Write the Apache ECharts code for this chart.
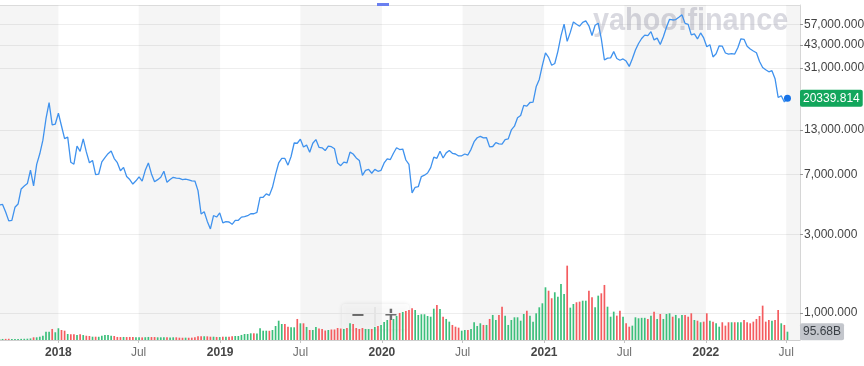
<!DOCTYPE html>
<html><head><meta charset="utf-8">
<script src="https://cdn.jsdelivr.net/npm/echarts@6/dist/echarts.min.js"></script>
<style>html,body{margin:0;padding:0;background:#fff}#c{width:864px;height:366px}</style>
</head><body><div id="c"></div>
<script>
// ---- DATA ----
// weekly bars, first week starts Monday 2017-08-21, one entry per week
const firstWeek = [2017, 7, 21];
const prices = [
4550,4582,4123,3640,3670,4403,4611,5700,5930,6140,
7407,5950,8040,9330,11290,15250,19140,13995,14156,16477,
13772,11530,11786,8277,8063,10400,9660,11500,9578,8223,
8495,6973,7023,8329,8845,9348,9700,8723,8234,7354,
7714,6786,6500,6106,6385,6741,6355,7398,8205,7034,
6308,6491,6719,7302,6251,6499,6710,6625,6603,6489,
6530,6480,6388,6366,5563,4010,4140,3614,3252,3924,
3843,4076,3545,3601,3583,3470,3667,3673,3838,3862,
3916,4025,4023,4105,5059,5071,5313,5206,5831,6987,
8200,8742,8740,7954,8980,10855,10817,11450,10257,10535,
9530,10814,11390,10216,10137,9757,10400,10300,10000,8200,
7900,8300,8200,9550,9300,8800,8500,6900,7400,7500,
7100,7500,7300,7400,8200,8700,8600,9400,10150,9900,
9970,8550,8030,5390,5830,5880,6780,6910,7120,7680,
8900,8750,9670,8790,9450,9760,9390,9300,9050,9070,
9300,9170,9930,11050,11680,11910,11660,11680,10280,10330,
10920,10730,10680,11380,11500,13030,13740,15480,15960,18400,
18190,19150,19270,23870,26460,32200,38350,36070,32290,33110,
39260,48720,57540,45140,51200,59300,57350,55830,58970,60200,
56150,49000,56630,58230,46760,34770,35680,35800,39100,35480,
34650,35290,34240,31780,35400,39975,43800,47000,49300,48900,
51750,46060,47260,43200,48200,54970,61550,60930,61320,63300,
65470,58120,57250,49400,50100,46700,50800,47350,41860,43100,
36280,37920,42400,42200,38350,37700,38060,37780,41250,46820,
46450,42160,40550,39450,38470,34060,31300,30290,29450,29910,
26760,20550,21030,19300,20339.814
];
// weekly volume, billions
const volumes = [
12,12,13,14,12,12,12,13,14,15,
18,31,31,38,49,95,96,127,89,135,
115,107,69,66,65,58,66,57,49,46,
38,38,37,49,58,57,49,46,35,34,
35,34,35,34,31,31,30,32,35,34,
34,31,31,32,31,30,31,31,27,26,
27,26,27,31,43,42,43,42,38,38,
35,34,38,38,37,42,46,46,58,69,
69,77,77,76,135,107,107,106,115,161,
222,184,184,153,146,146,242,192,192,150,
115,115,150,132,127,109,115,121,121,138,
132,127,138,192,184,138,127,138,127,126,
127,150,161,173,207,230,230,242,276,311,
322,334,345,365,345,288,296,296,276,268,
360,403,357,268,242,211,173,153,142,107,
115,115,127,204,161,192,173,173,242,288,
230,288,383,280,173,230,261,261,222,299,
337,280,211,307,376,422,606,567,480,549,
498,644,529,855,372,414,434,441,452,452,
567,491,376,510,537,633,383,268,326,280,
337,268,192,153,165,261,250,255,255,242,
280,326,242,299,242,299,307,268,288,250,
288,288,268,307,230,222,204,211,307,222,
211,192,153,204,165,204,204,204,204,204,
230,204,192,211,242,276,395,211,230,222,
230,345,192,173,95.68
];
const lastPriceText = '20339.814';
const lastVolumeText = '95.68B';
const yTicks = [1000, 3000, 7000, 13000, 31000, 43000, 57000];
const xTickDates = [[2018,0,1],[2018,6,1],[2019,0,1],[2019,6,1],[2020,0,1],[2020,6,1],[2021,0,1],[2021,6,1],[2022,0,1],[2022,6,1]];
const xTickLabels = ['2018','Jul','2019','Jul','2020','Jul','2021','Jul','2022','Jul'];
// shaded half-years (second half of each year)
const shadeStarts = [null,[2018,6,1],[2019,6,1],[2020,6,1],[2021,6,1],[2022,6,1]];
const shadeEnds   = [[2018,0,1],[2019,0,1],[2020,0,1],[2021,0,1],[2022,0,1],null];

// ---- BUILD ----
const DAY = 864e5;
const utc = a => Date.UTC(a[0], a[1], a[2]);
const t0 = utc(firstWeek);
const weekTimes = prices.map((_, i) => t0 + i * 7 * DAY);
const ref = Date.UTC(2018, 0, 1);
const xMin = ref - 131.77 * DAY;
const xMax = ref + 1673.3 * DAY;
const xTickTimes = xTickDates.map(utc);
const priceData = prices.map((v, i) => [weekTimes[i], v]);
const volData = volumes.map((v, i) => [weekTimes[i], v]);
const n = prices.length;
const bands = shadeStarts.map((s, k) => [
  { xAxis: s ? utc(s) : xMin },
  { xAxis: shadeEnds[k] ? utc(shadeEnds[k]) : xMax }
]);
const FONT = '"Liberation Sans", Arial, Helvetica, sans-serif';
const GREEN = '#3cbf7b', RED = '#f45c5f';
const HIDDEN_LINE = { color: 'rgba(0,0,0,0)', width: 0, type: 'solid' };

const chart = echarts.init(document.getElementById('c'), null, { renderer: 'canvas' });
chart.setOption({
  animation: false,
  backgroundColor: '#fff',
  textStyle: { fontFamily: FONT },
  grid: [
    { left: 0, right: 64, top: 5, bottom: 26, containLabel: false, outerBoundsMode: 'none' },
    { left: 0, right: 64, top: 240, bottom: 26, containLabel: false, outerBoundsMode: 'none' }
  ],
  xAxis: [
    {
      type: 'value', gridIndex: 0, min: xMin, max: xMax, position: 'bottom', scale: true,
      axisLine: { show: true, onZero: false, lineStyle: { color: '#cfcfcf', width: 1 } },
      axisTick: { show: true, customValues: xTickTimes, length: 3, lineStyle: { color: '#c4c4c4' } },
      axisLabel: {
        customValues: xTickTimes, margin: 7, fontSize: 12, fontFamily: FONT,
        formatter: v => {
          let k = 0, best = Infinity;
          xTickTimes.forEach((t, j) => { const d = Math.abs(t - v); if (d < best) { best = d; k = j; } });
          const s = xTickLabels[k];
          return s === 'Jul' ? '{m|' + s + '}' : '{y|' + s + '}';
        },
        rich: {
          y: { fontWeight: 'bold', color: '#464646', fontSize: 12, fontFamily: FONT },
          m: { color: '#707070', fontSize: 12, fontFamily: FONT }
        }
      },
      splitLine: { show: false }
    },
    {
      type: 'value', gridIndex: 0, min: xMin, max: xMax, position: 'top', scale: true,
      axisLine: { show: true, onZero: false, lineStyle: { color: '#e4e4e4', width: 1 } },
      axisTick: { show: false }, axisLabel: { show: false }, splitLine: { show: false }
    },
    {
      type: 'value', gridIndex: 1, min: xMin, max: xMax, scale: true, show: false
    }
  ],
  yAxis: [
    {
      type: 'log', logBase: 10, gridIndex: 0, position: 'right',
      min: 684.8, max: 75180,
      axisLine: { show: true, lineStyle: { color: '#d6d6d6' } },
      axisTick: { show: true, customValues: yTicks, length: 3, lineStyle: { color: '#9a9a9a' } },
      axisLabel: {
        customValues: yTicks, margin: 4, fontSize: 12, color: '#444', fontFamily: FONT,
        formatter: v => Number(v).toLocaleString('en-US', { minimumFractionDigits: 3, maximumFractionDigits: 3 })
      },
      splitLine: { show: true, lineStyle: { color: '#eeeeee', width: 1 } }
    },
    { type: 'value', gridIndex: 1, min: 0, max: 1150, show: false }
  ],
  series: [
    {
      type: 'bar', xAxisIndex: 2, yAxisIndex: 1, data: volData, barWidth: 1.7, z: 2,
      itemStyle: {
        color: p => (p.dataIndex === 0 || prices[p.dataIndex] >= prices[p.dataIndex - 1]) ? GREEN : RED
      },
      markLine: {
        silent: true, symbol: ['none', 'none'], animation: false, z: 20,
        lineStyle: HIDDEN_LINE,
        data: [{ yAxis: volumes[n - 1] }],
        label: {
          show: true, position: 'end', distance: 0, formatter: lastVolumeText, opacity: 1,
          color: '#3a3f45', fontSize: 12, fontFamily: FONT,
          backgroundColor: '#c3c6cc', padding: [3, 3, 2, 3], borderRadius: 2
        }
      }
    },
    {
      type: 'line', xAxisIndex: 0, yAxisIndex: 0, data: priceData, showSymbol: false, z: 3,
      lineStyle: { color: '#3f92ee', width: 1.3 }, clip: true,
      markArea: { silent: true, itemStyle: { color: 'rgba(0,0,0,0.04)' }, data: bands },
      markLine: {
        silent: true, symbol: ['none', 'none'], animation: false, z: 20,
        lineStyle: HIDDEN_LINE,
        data: [{ yAxis: prices[n - 1] }],
        label: {
          show: true, position: 'end', distance: 0, formatter: lastPriceText, opacity: 1,
          color: '#fff', fontSize: 12, fontFamily: FONT,
          backgroundColor: '#12a65c', padding: [3, 3, 2, 3], borderRadius: 2
        }
      },
      markPoint: {
        silent: true, symbol: 'circle', symbolSize: 7,
        itemStyle: { color: '#1673e8' }, label: { show: false },
        data: [{ coord: [weekTimes[n - 1], prices[n - 1]] }]
      }
    }
  ],
  graphic: [
    {
      type: 'text', left: 593, top: 5, z: 1, scaleX: 0.9,
      style: { text: 'yahoo!finance', font: 'bold 32px ' + FONT, fill: 'rgba(165,165,182,0.42)' }
    },
    {
      type: 'rect', left: 377, top: 3, z: 10,
      shape: { width: 12, height: 3 }, style: { fill: '#6a7ff0' }
    },
    {
      type: 'group', left: 342, top: 304, z: 100,
      children: [
        { type: 'rect', shape: { x: 0, y: 0, width: 67, height: 25, r: 3 },
          style: { fill: 'rgba(255,255,255,0.8)', shadowBlur: 4, shadowColor: 'rgba(0,0,0,0.12)' } },
        { type: 'line', shape: { x1: 33, y1: 3, x2: 33, y2: 22 }, style: { stroke: '#e2e2e2', lineWidth: 1 } },
        { type: 'text', x: 16, y: 12, style: { text: '−', font: 'bold 22px ' + FONT, fill: '#6e6e6e', align: 'center', verticalAlign: 'middle' } },
        { type: 'text', x: 49, y: 12, style: { text: '+', font: 'bold 22px ' + FONT, fill: '#6e6e6e', align: 'center', verticalAlign: 'middle' } }
      ]
    }
  ]
});
</script>
</body></html>
